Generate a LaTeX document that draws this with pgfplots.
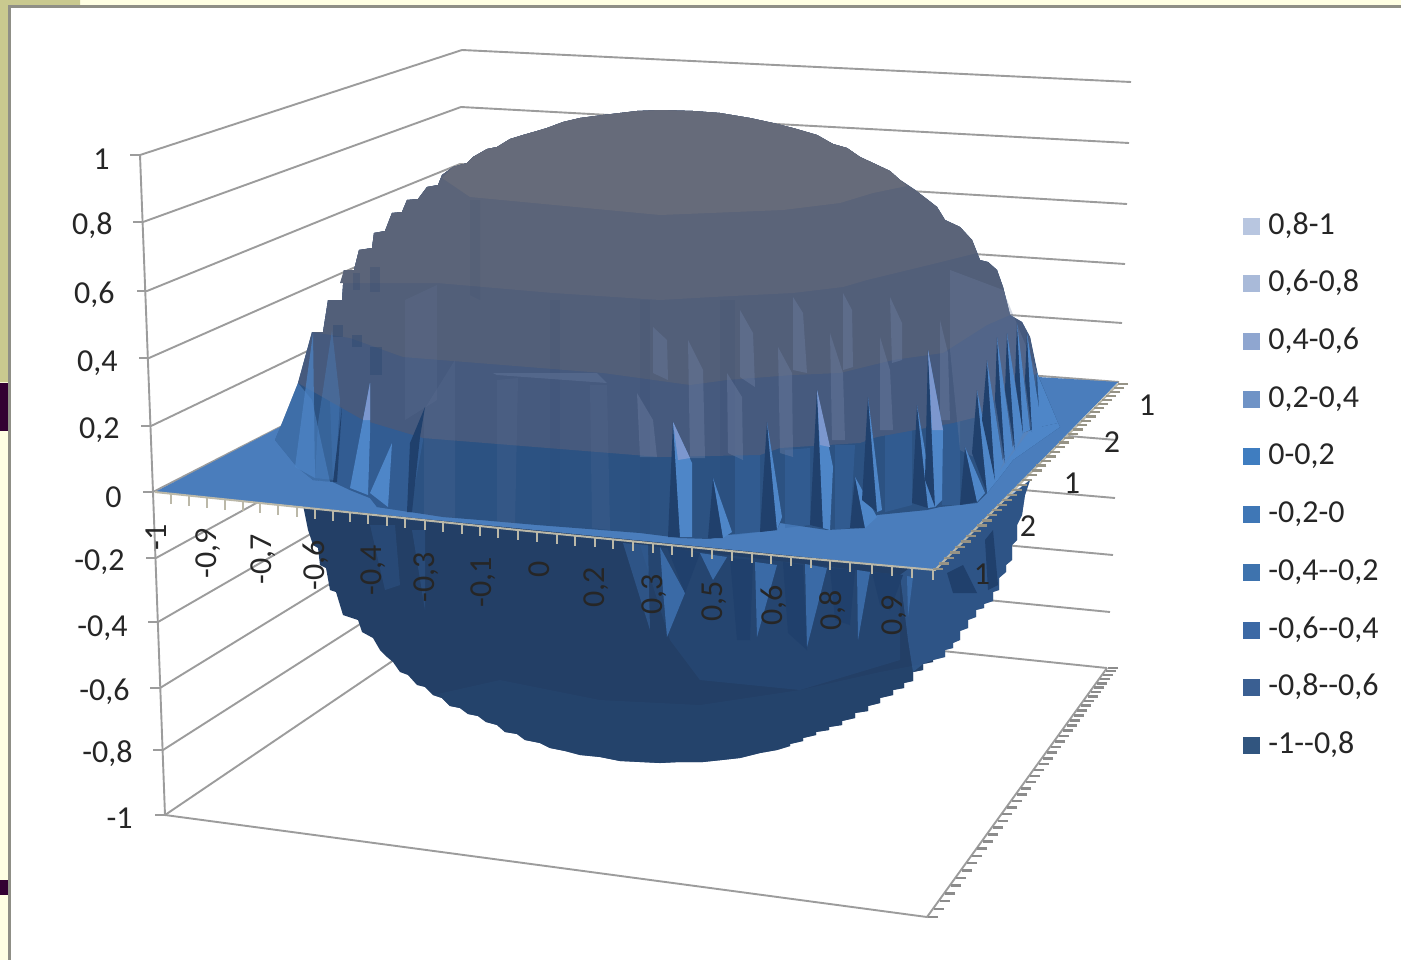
\documentclass[border=0pt]{standalone}
\usepackage{pgfplots}
\pgfplotsset{compat=1.18}
\usepackage{fontspec}
\setmainfont{Carlito}
\definecolor{khaki}{HTML}{C9C98F}
\definecolor{cream}{HTML}{FFFFE3}
\definecolor{purp}{HTML}{330033}
\definecolor{frame}{HTML}{8F8F86}
\definecolor{wall}{HTML}{9C9C9C}
\definecolor{tan}{HTML}{BBB8A8}
\definecolor{plane}{HTML}{4A7DBC}
\definecolor{bA}{HTML}{2C5282}
\definecolor{bB}{HTML}{465A7E}
\definecolor{bC}{HTML}{525F79}
\definecolor{bD}{HTML}{5B6479}
\definecolor{bE}{HTML}{666B7A}
\definecolor{low}{HTML}{233F66}
\definecolor{lowb}{HTML}{25446D}
\definecolor{lowl}{HTML}{3A6AA6}
\definecolor{lowm}{HTML}{2E5A90}
\definecolor{spk}{HTML}{4E86C8}
\definecolor{spkl}{HTML}{7C97CE}
\definecolor{drk}{HTML}{20406C}
\definecolor{gry}{HTML}{6E80A4}
\definecolor{lA}{HTML}{B8C6E0}
\definecolor{lB}{HTML}{A9BAD9}
\definecolor{lC}{HTML}{8FA6D0}
\definecolor{lD}{HTML}{6F93C6}
\definecolor{lE}{HTML}{3F7DC0}
\definecolor{lF}{HTML}{3F77B6}
\definecolor{lG}{HTML}{3E73AE}
\definecolor{lH}{HTML}{3C69A5}
\definecolor{lI}{HTML}{3A5F92}
\definecolor{lJ}{HTML}{31557F}
\newcommand\pg[2]{\addplot[forget plot,fill=#1,draw=none] coordinates {#2} -- cycle;}
\newcommand\po[3]{\addplot[forget plot,fill=#1,fill opacity=#2,draw=none] coordinates {#3} -- cycle;}
\newcommand\wl[1]{\addplot[forget plot,wall,line width=0.95pt] coordinates {#1};}
\newcommand\lb[3]{\node[anchor=east,inner sep=0pt,text=black!85] at (axis cs:#1,#2) {\fontsize{16}{18}\selectfont #3};}
\newcommand\xl[3]{\node[rotate=90,inner sep=0pt,text=black!85] at (axis cs:#1,#2) {\fontsize{16}{18}\selectfont #3};}
\newcommand\dl[3]{\node[inner sep=0pt,text=black!85] at (axis cs:#1,#2) {\fontsize{16}{18}\selectfont #3};}
\newcommand\lgd[3]{\addplot[forget plot,only marks,mark=square*,mark size=4pt,mark options={fill=#1,draw=#1,line width=0pt}] coordinates {(1251,#2)};
\node[anchor=west,inner sep=0pt,text=black!85] at (axis cs:1268,#2) {\fontsize{16}{18}\selectfont #3};}
\begin{document}
\begin{tikzpicture}
\begin{axis}[scale only axis,width=700.5pt,height=480pt,xmin=0,xmax=1401,ymin=0,ymax=960,y dir=reverse,hide axis,clip=true]
% slide background
\pg{cream}{(0,0)(1401,0)(1401,960)(0,960)}
\pg{khaki}{(0,0)(80,0)(80,6)(8,6)(8,382)(0,382)}
\pg{purp}{(0,383)(8,383)(8,431)(0,431)}
\pg{purp}{(0,880)(8,880)(8,895)(0,895)}
\pg{frame}{(8,5)(1401,5)(1401,960)(8,960)}
\pg{white}{(11,8)(1401,8)(1401,960)(11,960)}
% walls
\wl{(130,155)(140,155)(462,50)(1131,82)}
\wl{(133,222)(143,222)(461,107)(1129,143)}
\wl{(137,291)(147,291)(460,164)(1127,204)}
\wl{(139,358)(149,358)(462,220)(1125,264)}
\wl{(141,426)(151,426)(464,276)(1122,323)}
\wl{(143,492)(153,492)(466,332)(1119,382)}
\wl{(146,558)(156,558)(468,387)(1117,440)}
\wl{(148,622)(158,622)(470,442)(1115,498)}
\wl{(150,688)(160,688)(473,496)(1113,555)}
\wl{(153,750)(163,750)(476,550)(1110,612)}
\wl{(155,815)(165,815)(478,603)(1107,668)}
\wl{(140,155)(153,492)(165,815)(927,917)(1107,668)}
% floor ticks
\addplot[forget plot,only marks,mark=-,mark size=2.5pt,mark options={draw=gray!90,line width=1.3pt}] coordinates {
(933,917)(938.8,909)(944.5,901.1)(950.1,893.3)(955.7,885.6)(961.2,878)(966.6,870.5)(972,863.1)(977.2,855.8)(982.4,848.6)(987.6,841.5)(992.6,834.5)(997.6,827.6)(1002.5,820.8)(1007.4,814.1)(1012.2,807.5)(1016.9,801)(1021.5,794.6)(1026,788.3)(1030.5,782.1)(1034.9,776)(1039.3,770)(1043.5,764.1)(1047.7,758.3)(1051.9,752.6)(1055.9,747)(1059.9,741.5)(1063.9,736)(1067.7,730.7)(1071.5,725.5)(1075.2,720.4)(1078.8,715.4)(1082.3,710.5)(1085.8,705.7)(1089.2,701)(1092.5,696.4)(1095.8,691.9)(1099,687.5)(1102.1,683.2)(1105.1,679)(1108,675)(1111,671)(1113,668)};
% lower half
\pg{low}{(303,505)(308,530)(313,545)(318,548)(320,565)(326,568)(330,590)(336,592)(343,615)(358,620)(362,632)(373,638)(380,650)(387,657)(393,662)(400,672)(408,675)(417,685)(425,687)(433,695)(442,698)(450,706)(460,708)(468,714)(478,716)(486,722)(497,725)(505,732)(517,734)(525,740)(540,743)(550,748)(565,751)(580,755)(600,757)(620,761)(640,762)(660,763)(680,762)(703,762)(722,760)(740,758)(760,753)(777,750)(790,746)(790,744)(803,741)(803,738)(816,735)(816,732)(829,730)(829,727)(842,725)(842,721)(855,718)(855,713)(868,711)(868,706)(880,703)(880,698)(893,695)(893,690)(904,688)(904,683)(913,681)(913,672)(923,670)(923,664)(933,662)(933,660)(945,657)(945,650)(953,648)(953,643)(960,640)(960,631)(968,628)(968,620)(976,617)(976,610)(984,608)(984,604)(993,601)(993,592)(999,590)(999,578)(1006,572)(1006,565)(1012,560)(1012,545)(1017,540)(1017,525)(1022,515)(1025,495)(1030,480)(933,560)(500,520)}
\po{lowb}{.8}{(433,695)(442,698)(450,706)(460,708)(468,714)(478,716)(486,722)(497,725)(505,732)(517,734)(525,740)(540,743)(550,748)(565,751)(580,755)(600,757)(620,761)(640,762)(660,763)(680,762)(703,762)(722,760)(740,758)(760,753)(777,750)(790,746)(790,744)(803,741)(803,738)(816,735)(816,732)(829,730)(829,727)(842,725)(842,721)(855,718)(855,713)(868,711)(868,706)(880,703)(880,698)(893,695)(893,690)(904,688)(904,683)(913,681)(913,672)(923,670)(923,664)(933,662)(880,672)(800,690)(700,705)(600,700)(500,680)}
\po{lowl}{.5}{(900,575)(1030,480)(1025,495)(1022,515)(1017,525)(1017,540)(1012,545)(1012,560)(1006,565)(1006,572)(999,578)(999,590)(993,592)(993,601)(984,604)(984,608)(976,610)(976,617)(968,620)(968,628)(960,631)(960,640)(953,643)(953,648)(945,650)(945,657)(933,660)(923,664)(913,672)(908,640)}
\po{lowm}{.25}{(640,545)(900,575)(900,660)(800,690)(700,680)(670,640)}
\pg{drk}{(730,558)(753,560)(750,640)(737,640)}
\pg{lowl}{(755,562)(777,565)(757,637)}
\pg{drk}{(783,562)(803,565)(807,650)(788,633)}
\pg{lowl}{(805,564)(827,568)(807,647)}
\pg{drk}{(830,568)(855,570)(850,625)(835,620)}
\pg{lowl}{(857,570)(870,572)(858,640)}
\pg{drk}{(872,572)(903,575)(890,610)(880,605)}
\pg{lowl}{(907,576)(913,577)(908,617)}
\pg{lowl}{(660,547)(685,593)(667,637)(663,590)}
\pg{drk}{(667,547)(700,553)(685,593)}
\pg{lowl}{(700,553)(727,557)(713,580)}
\po{lowl}{.5}{(623,543)(648,545)(650,630)}
\pg{drk}{(947,573)(963,565)(977,593)(953,593)}
\pg{drk}{(985,540)(993,530)(998,585)(988,590)}
\po{lowl}{.25}{(370,525)(395,525)(400,585)(385,590)}
\po{lowl}{.3}{(412,530)(425,530)(425,610)}
% plane
\pg{plane}{(155,492)(280,427)(1038,377)(1118,382)(935,570)}
\addplot[forget plot,tan,line width=1pt] coordinates {(155,492)(518,530)(791,557)(935,570)(1118,384)};
\addplot[forget plot,only marks,mark=|,mark size=2.5pt,mark options={draw=tan,line width=1.2pt}] coordinates {
(171,499)(189,501)(207,502.5)(225,504.5)(243,506)(260,508)(278,510)(297,512)(315,514)(333,515.6)(350,517.4)(368,519.3)(387,521.3)(405,523.2)(425,525.3)(443,527.2)(462,529.1)(480,531)(498,533)(518,535)(537,536.8)(557,538.7)(575,540.5)(595,542.4)(613,544.1)(633,546)(653,548)(672,549.8)(692,551.7)(712,553.6)(732,555.5)(752,557.5)(771,559.3)(791,561.2)(811,563.1)(830,565)(850,566.9)(872,569)(892,570.9)(912,572.8)(933,574.8)};
\addplot[forget plot,only marks,mark=-,mark size=2.5pt,mark options={draw=tan!80!black,line width=1.2pt}] coordinates {
(938,569)(943.6,563.4)(949.2,557.85)(954.7,552.3)(960.1,546.9)(965.5,541.5)(970.9,536.1)(976.2,530.8)(981.5,525.5)(986.7,520.3)(991.9,515.1)(997.1,509.9)(1002.2,504.8)(1007.2,499.8)(1012.2,494.8)(1017.2,489.8)(1022.1,484.9)(1027,480)(1031.8,475.2)(1036.6,470.4)(1041.4,465.6)(1046.1,460.9)(1050.7,456.3)(1055.3,451.7)(1059.9,447.1)(1064.4,442.6)(1068.9,438.1)(1073.3,433.7)(1077.7,429.3)(1082,425)(1086.3,420.7)(1090.6,416.4)(1094.8,412.2)(1099,408)(1103.1,403.9)(1107.1,399.9)(1111.2,395.8)(1115.2,391.8)(1119.1,387.9)(1123,384)};
% upper half: bands painted from the widest up
\pg{bA}{(275,440)(282,423)(298,383)(312,332)(323,332)(328,300)(342,300)(344,270)(354,270)(359,250)(372,248)(374,233)(385,231)(392,213)(402,212)(407,200)(418,199)(427,187)(438,185)(442,175)(453,167)(467,163)(473,157)(487,149)(497,147)(510,139)(523,135)(537,131)(547,128)(563,122)(580,118)(603,115)(637,111)(660,110)(693,111)(720,113)(750,118)(773,123)(793,128)(817,135)(833,144)(847,148)(860,157)(873,163)(890,171)(900,180)(915,190)(928,200)(937,207)(945,220)(960,227)(972,240)(980,260)(988,262)(997,270)(1003,287)(1010,315)(1022,322)(1030,337)(1038,375)(1058,423)(1060,427)(1013,460)(1000,477)(987,493)(977,503)(940,507)(927,510)(877,515)(863,528)(827,530)(780,523)(777,530)(727,535)(710,539)(680,538)(640,533)(537,525)(480,520)(443,517)(410,512)(377,507)(370,498)(350,490)(333,482)(313,480)(297,467)}
\pg{spk}{(1040,427)(1058,423)(1060,427)(1013,460)(1000,477)(987,493)(995,470)(1023,433)}
\po{spk}{.55}{(275,440)(282,423)(298,383)(312,400)(330,482)(313,480)(297,467)}
\po{lowl}{.45}{(330,400)(424,435)(410,512)(377,507)(370,498)(350,490)(333,482)}
\po{lowl}{.4}{(735,455)(760,455)(760,532)(735,535)}
\po{lowl}{.4}{(785,450)(810,448)(810,525)(785,528)}
\po{lowl}{.4}{(835,445)(855,445)(850,528)(835,530)}
\po{lowl}{.4}{(885,435)(912,430)(912,505)(885,512)}
\po{lowl}{.4}{(940,425)(960,420)(960,505)(942,505)}
\pg{bB}{(298,383)(312,332)(323,332)(328,300)(342,300)(344,270)(354,270)(359,250)(372,248)(374,233)(385,231)(392,213)(402,212)(407,200)(418,199)(427,187)(438,185)(442,175)(453,167)(467,163)(473,157)(487,149)(497,147)(510,139)(523,135)(537,131)(547,128)(563,122)(580,118)(603,115)(637,111)(660,110)(693,111)(720,113)(750,118)(773,123)(793,128)(817,135)(833,144)(847,148)(860,157)(873,163)(890,171)(900,180)(915,190)(928,200)(937,207)(945,220)(960,227)(972,240)(980,260)(988,262)(997,270)(1003,287)(1010,315)(1022,322)(1030,337)(1037,373)(1000,395)(977,417)(953,423)(877,437)(860,443)(780,448)(760,455)(660,457)(423,438)(363,420)}
\pg{bC}{(312,332)(323,332)(328,300)(342,300)(344,270)(354,270)(359,250)(372,248)(374,233)(385,231)(392,213)(402,212)(407,200)(418,199)(427,187)(438,185)(442,175)(453,167)(467,163)(473,157)(487,149)(497,147)(510,139)(523,135)(537,131)(547,128)(563,122)(580,118)(603,115)(637,111)(660,110)(693,111)(720,113)(750,118)(773,123)(793,128)(817,135)(833,144)(847,148)(860,157)(873,163)(890,171)(900,180)(915,190)(928,200)(937,207)(945,220)(960,227)(972,240)(980,260)(988,262)(997,270)(1003,287)(1010,315)(987,325)(943,353)(893,360)(840,373)(793,375)(727,380)(690,385)(603,373)(403,357)(350,338)}
\pg{bD}{(340,283)(344,270)(354,270)(359,250)(372,248)(374,233)(385,231)(392,213)(402,212)(407,200)(418,199)(427,187)(438,185)(442,175)(453,167)(467,163)(473,157)(487,149)(497,147)(510,139)(523,135)(537,131)(547,128)(563,122)(580,118)(603,115)(637,111)(660,110)(693,111)(720,113)(750,118)(773,123)(793,128)(817,135)(833,144)(847,148)(860,157)(873,163)(890,171)(900,180)(915,190)(928,200)(937,207)(945,220)(960,227)(972,240)(977,253)(937,263)(867,280)(843,287)(793,293)(713,297)(660,300)(553,293)(437,283)}
\pg{bE}{(442,178)(453,167)(467,163)(473,157)(487,149)(497,147)(510,139)(523,135)(537,131)(547,128)(563,122)(580,118)(603,115)(637,111)(660,110)(693,111)(720,113)(750,118)(773,123)(793,128)(817,135)(833,144)(847,148)(860,157)(873,163)(890,171)(900,180)(907,186)(873,193)(840,203)(783,210)(710,213)(660,215)(470,197)}
% stripes
\po{gry}{.15}{(424,410)(455,360)(455,518)(424,515)}
\po{gry}{.12}{(497,380)(518,378)(515,525)(497,522)}
\po{gry}{.12}{(590,385)(607,385)(610,530)(592,528)}
\po{gry}{.15}{(405,300)(437,285)(437,400)(405,420)}
\po{gry}{.3}{(950,270)(1003,290)(1037,373)(1030,430)(1000,470)(960,450)(950,350)}
\po{drk}{.08}{(470,200)(480,200)(480,300)(470,295)}
\po{drk}{.08}{(550,300)(560,300)(560,520)(550,520)}
\po{drk}{.08}{(640,300)(650,300)(650,530)(640,530)}
\po{drk}{.08}{(720,300)(735,300)(735,530)(720,530)}
% small stair blocks on the left
\po{drk}{.3}{(333,325)(343,325)(343,337)(333,337)}
\po{drk}{.3}{(352,335)(362,335)(362,347)(352,347)}
\po{drk}{.3}{(370,347)(382,347)(382,375)(370,375)}
\po{drk}{.2}{(353,273)(360,273)(360,290)(353,290)}
\po{drk}{.2}{(370,267)(380,267)(380,292)(370,292)}
% pale wedges in the upper bands
\po{gry}{.4}{(688,340)(703,370)(705,458)(690,458)}
\po{gry}{.4}{(727,373)(742,397)(743,460)(728,453)}
\po{gry}{.4}{(778,347)(792,373)(793,457)(780,453)}
\po{gry}{.4}{(830,333)(843,373)(845,440)(832,440)}
\po{gry}{.4}{(880,337)(890,370)(893,430)(880,430)}
\po{gry}{.4}{(940,320)(948,353)(950,420)(940,420)}
\po{gry}{.4}{(740,310)(753,333)(755,387)(740,377)}
\po{gry}{.4}{(793,297)(803,313)(807,373)(793,370)}
\po{gry}{.4}{(843,293)(852,310)(853,367)(843,370)}
\po{gry}{.4}{(890,297)(902,323)(902,360)(892,363)}
\po{gry}{.4}{(637,393)(653,420)(657,457)(640,457)}
\po{gry}{.35}{(653,327)(667,340)(668,380)(653,373)}
\po{gry}{.35}{(493,373)(597,373)(607,383)(497,375)}
% spikes on the right
\pg{drk}{(673,422)(680,537)(668,537)} \pg{spk}{(673,422)(692,463)(692,537)(680,537)} \pg{spkl}{(673,422)(690,458)(678,460)}
\pg{drk}{(713,478)(723,538)(708,538)} \pg{spk}{(713,478)(732,532)(723,538)}
\pg{drk}{(767,422)(777,530)(760,532)} \pg{spk}{(767,422)(782,517)(777,530)}
\pg{drk}{(817,390)(823,528)(810,525)} \pg{spk}{(817,390)(833,467)(830,530)(823,528)} \pg{spkl}{(817,390)(830,447)(820,445)}
\pg{drk}{(855,477)(865,528)(850,528)} \pg{spk}{(855,477)(877,517)(865,528)}
\pg{drk}{(868,397)(877,512)(862,500)} \pg{spk}{(868,397)(882,510)(877,512)}
\pg{drk}{(917,405)(928,508)(912,503)} \pg{spk}{(917,405)(935,507)(928,508)}
\pg{drk}{(928,350)(935,507)(925,480)} \pg{spk}{(928,350)(943,430)(942,500)(935,507)} \pg{spkl}{(928,350)(943,430)(932,430)}
\pg{drk}{(965,447)(977,502)(960,505)} \pg{spk}{(965,447)(985,493)(977,502)}
\pg{drk}{(977,390)(987,493)(972,453)} \pg{spk}{(977,390)(995,480)(987,493)}
\pg{drk}{(987,360)(995,480)(982,420)} \pg{spk}{(987,360)(1003,463)(995,480)}
\pg{drk}{(997,337)(1005,463)(995,400)} \pg{spk}{(997,337)(1013,450)(1005,463)}
\pg{drk}{(1007,333)(1015,450)(1005,390)} \pg{spk}{(1007,333)(1023,433)(1015,450)}
\pg{drk}{(1017,323)(1023,433)(1015,380)} \pg{spk}{(1017,323)(1030,430)(1023,433)}
\pg{drk}{(1027,333)(1032,432)(1025,380)} \pg{spk}{(1027,333)(1042,427)(1032,432)}
\pg{spk}{(1037,373)(1058,423)(1040,427)}
% spikes on the left
\po{spk}{.7}{(313,333)(295,467)(315,478)}
\po{spk}{.35}{(332,330)(318,423)(315,478)(335,480)(340,400)}
\pg{drk}{(342,407)(333,482)(337,482)}
\pg{spk}{(370,383)(363,420)(350,488)(368,495)(370,433)}
\pg{spkl}{(370,383)(363,420)(370,420)}
\pg{spk}{(392,443)(370,493)(388,507)}
\pg{drk}{(425,407)(410,443)(407,512)(412,512)(420,437)}
% axis texts
\lb{110}{159}{1}\lb{113}{226}{0,8}\lb{115}{295}{0,6}\lb{118}{363}{0,4}\lb{120}{430}{0,2}\lb{122}{497}{0}
\lb{125}{562}{-0,2}\lb{128}{628}{-0,4}\lb{130}{692}{-0,6}\lb{133}{754}{-0,8}\lb{133}{818}{-1}
\xl{156}{537}{-1}\xl{208}{553}{-0,9}\xl{263}{559}{-0,7}\xl{316}{565}{-0,6}\xl{373}{570}{-0,4}\xl{426}{577}{-0,3}\xl{483}{582}{-0,1}\xl{539}{569}{0}\xl{596}{587}{0,2}\xl{654}{594}{0,3}\xl{714}{601}{0,5}\xl{774}{605}{0,6}\xl{833}{610}{0,8}\xl{894}{615}{0,9}
\dl{1147}{405}{1}\dl{1112}{442}{2}\dl{1072}{483}{1}\dl{1028}{526}{2}\dl{982}{574}{1}
% legend
\lgd{lA}{226}{0,8-1}\lgd{lB}{283}{0,6-0,8}\lgd{lC}{341}{0,4-0,6}\lgd{lD}{399}{0,2-0,4}\lgd{lE}{456}{0-0,2}
\lgd{lF}{514}{-0,2-0}\lgd{lG}{572}{-0,4-{}-0,2}\lgd{lH}{630}{-0,6-{}-0,4}\lgd{lI}{687}{-0,8-{}-0,6}\lgd{lJ}{745}{-1-{}-0,8}
\end{axis}
\end{tikzpicture}
\end{document}
